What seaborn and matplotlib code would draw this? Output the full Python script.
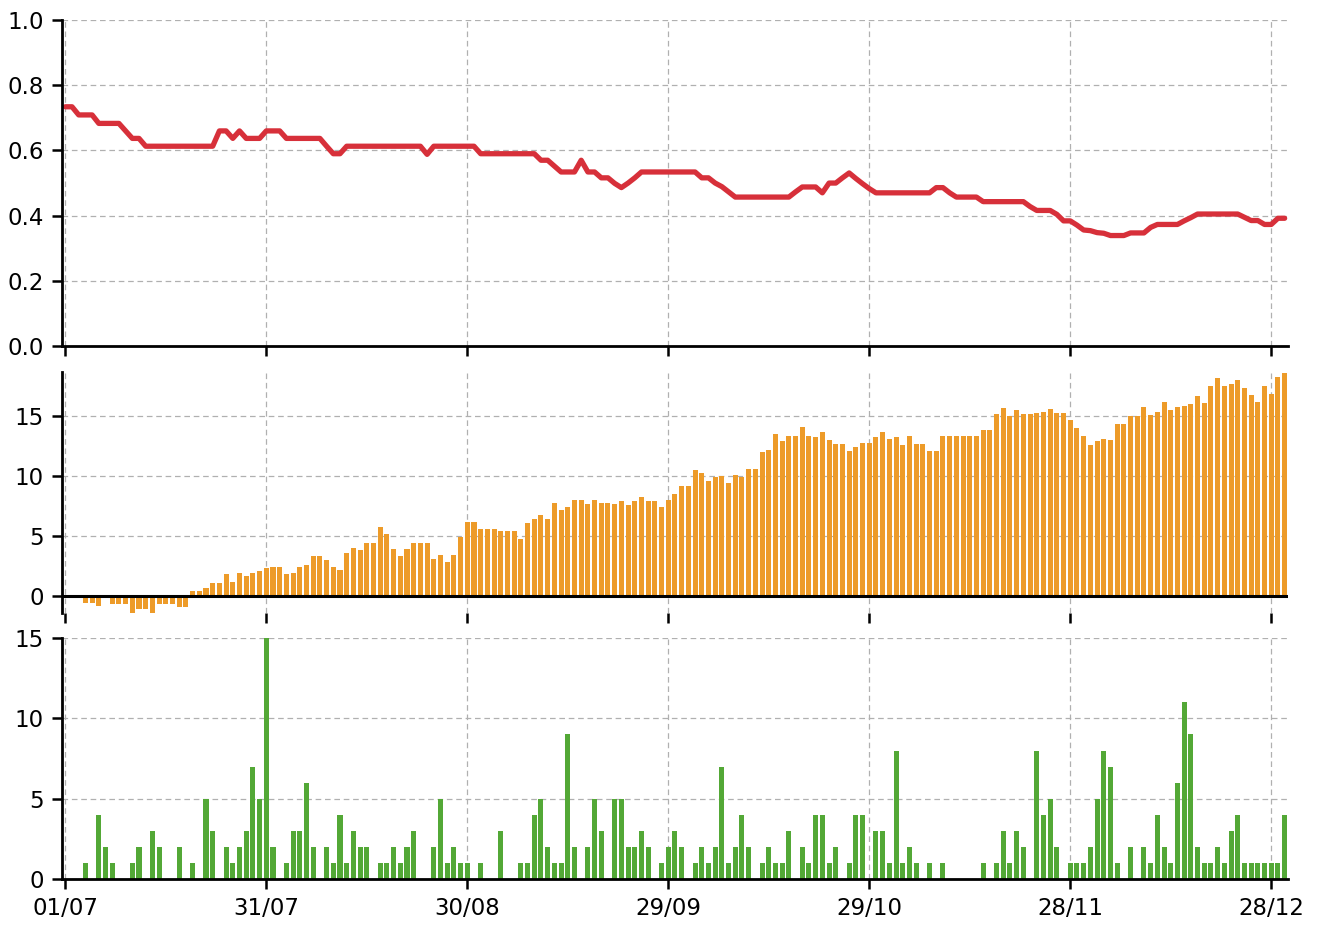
import numpy as np
import pandas as pd
import matplotlib
matplotlib.use("Agg")
import matplotlib.pyplot as plt
import seaborn as sns

# one value per day, 01/07 .. 30/12
ratio = [0.734, 0.734, 0.709, 0.709, 0.709, 0.683, 0.683, 0.683, 0.683, 0.66,
         0.637, 0.637, 0.613, 0.613, 0.613, 0.613, 0.613, 0.613, 0.613, 0.613,
         0.613, 0.613, 0.613, 0.66, 0.66, 0.637, 0.66, 0.637, 0.637, 0.637,
         0.66, 0.66, 0.66, 0.637, 0.637, 0.637, 0.637, 0.637, 0.637, 0.613,
         0.59, 0.59, 0.613, 0.613, 0.613, 0.613, 0.613, 0.613, 0.613, 0.613,
         0.613, 0.613, 0.613, 0.613, 0.588, 0.613, 0.613, 0.613, 0.613, 0.613,
         0.613, 0.613, 0.59, 0.59, 0.59, 0.59, 0.59, 0.59, 0.59, 0.59,
         0.59, 0.57, 0.57, 0.552, 0.534, 0.534, 0.534, 0.57, 0.534, 0.534,
         0.516, 0.516, 0.499, 0.486, 0.5, 0.516, 0.534, 0.534, 0.534, 0.534,
         0.534, 0.534, 0.534, 0.534, 0.534, 0.516, 0.516, 0.5, 0.489, 0.473,
         0.457, 0.457, 0.457, 0.457, 0.457, 0.457, 0.457, 0.457, 0.457, 0.473,
         0.488, 0.488, 0.488, 0.47, 0.5, 0.5, 0.516, 0.531, 0.514, 0.498,
         0.483, 0.47, 0.47, 0.47, 0.47, 0.47, 0.47, 0.47, 0.47, 0.47,
         0.486, 0.486, 0.47, 0.457, 0.457, 0.457, 0.457, 0.443, 0.443, 0.443,
         0.443, 0.443, 0.443, 0.443, 0.428, 0.416, 0.416, 0.416, 0.404, 0.384,
         0.384, 0.371, 0.356, 0.354, 0.348, 0.346, 0.339, 0.339, 0.339, 0.347,
         0.347, 0.347, 0.364, 0.373, 0.373, 0.373, 0.373, 0.384, 0.394, 0.405,
         0.405, 0.405, 0.405, 0.405, 0.405, 0.405, 0.395, 0.385, 0.385, 0.373,
         0.373, 0.392, 0.392]

balance = [0, 0, 0, -0.6, -0.6, -0.8, 0, -0.7, -0.7, -0.7,
           -1.4, -1.1, -1.1, -1.4, -0.7, -0.7, -0.7, -0.9, -0.9, 0.4,
           0.4, 0.7, 1.1, 1.1, 1.8, 1.2, 1.9, 1.7, 1.9, 2.1,
           2.3, 2.4, 2.4, 1.8, 1.9, 2.4, 2.6, 3.3, 3.3, 3.0,
           2.4, 2.2, 3.6, 4.0, 3.8, 4.4, 4.4, 5.8, 5.2, 3.9,
           3.3, 3.9, 4.4, 4.4, 4.4, 3.1, 3.4, 2.8, 3.4, 4.9,
           6.2, 6.2, 5.6, 5.6, 5.6, 5.4, 5.4, 5.4, 4.8, 6.1,
           6.4, 6.8, 6.4, 7.8, 7.2, 7.4, 8.0, 8.0, 7.7, 8.0,
           7.8, 7.8, 7.7, 7.9, 7.6, 7.9, 8.3, 7.9, 7.9, 7.4,
           8.0, 8.5, 9.2, 9.2, 10.5, 10.3, 9.6, 9.9, 10.0, 9.4,
           10.1, 9.9, 10.6, 10.6, 12.0, 12.2, 13.5, 12.9, 13.4, 13.4,
           14.1, 13.4, 13.3, 13.7, 13.0, 12.7, 12.7, 12.1, 12.4, 12.8,
           12.8, 13.3, 13.7, 13.1, 13.3, 12.6, 13.4, 12.7, 12.7, 12.1,
           12.1, 13.4, 13.4, 13.4, 13.4, 13.4, 13.4, 13.9, 13.9, 15.2,
           15.7, 15.0, 15.5, 15.2, 15.2, 15.3, 15.4, 15.6, 15.3, 15.3,
           14.7, 14.0, 13.4, 12.6, 12.9, 13.1, 13.0, 14.4, 14.4, 15.0,
           15.0, 15.8, 15.1, 15.4, 16.2, 15.5, 15.8, 15.9, 16.0, 16.7,
           16.1, 17.5, 18.2, 17.5, 17.7, 18.0, 17.4, 16.8, 16.2, 17.5,
           16.9, 18.3, 18.6]

counts = [0, 0, 0, 1, 0, 4, 2, 1, 0, 0,
          1, 2, 0, 3, 2, 0, 0, 2, 0, 1,
          0, 5, 3, 0, 2, 1, 2, 3, 7, 5,
          15, 2, 0, 1, 3, 3, 6, 2, 0, 2,
          1, 4, 1, 3, 2, 2, 0, 1, 1, 2,
          1, 2, 3, 0, 0, 2, 5, 1, 2, 1,
          1, 0, 1, 0, 0, 3, 0, 0, 1, 1,
          4, 5, 2, 1, 1, 9, 2, 0, 2, 5,
          3, 0, 5, 5, 2, 2, 3, 2, 0, 1,
          2, 3, 2, 0, 1, 2, 1, 2, 7, 1,
          2, 4, 2, 0, 1, 2, 1, 1, 3, 0,
          2, 1, 4, 4, 1, 2, 0, 1, 4, 4,
          0, 3, 3, 1, 8, 1, 2, 1, 0, 1,
          0, 1, 0, 0, 0, 0, 0, 1, 0, 1,
          3, 1, 3, 2, 0, 8, 4, 5, 2, 0,
          1, 1, 1, 2, 5, 8, 7, 1, 0, 2,
          0, 2, 1, 4, 2, 1, 6, 11, 9, 2,
          1, 1, 2, 1, 3, 4, 1, 1, 1, 1,
          1, 1, 4]

tick_days = [0, 30, 60, 90, 120, 150, 180]
tick_labels = ["01/07", "31/07", "30/08", "29/09", "29/10", "28/11", "28/12"]

days = list(range(len(ratio)))
df = pd.DataFrame({"day": days, "ratio": ratio,
                   "balance": balance, "count": counts})

sns.set_theme(style="white")
fig = plt.figure(figsize=(13.24, 9.25), dpi=100)
ax1 = fig.add_axes([0.0468, 0.6259, 0.926, 0.3524])
ax2 = fig.add_axes([0.0468, 0.3373, 0.926, 0.2605])
ax3 = fig.add_axes([0.0468, 0.0497, 0.926, 0.2605])

sns.lineplot(data=df, x="day", y="ratio", ax=ax1, color="#d7303a", linewidth=3.8)
# categorical positions 0..182 are the day numbers themselves
sns.barplot(data=df, x="day", y="balance", ax=ax2, color="#ed9b29", order=days,
            width=0.75, saturation=1, errorbar=None, linewidth=0)
sns.barplot(data=df, x="day", y="count", ax=ax3, color="#53a836", order=days,
            width=0.75, saturation=1, errorbar=None, linewidth=0)

for ax in (ax1, ax2, ax3):
    ax.set_xlim(-0.5, 182.5)
    ax.set_xticks(tick_days)
    ax.set_xticklabels(tick_labels)
    ax.grid(True, axis="both", linestyle=(0, (4.5, 3)), color="#b0b0b0", linewidth=0.9)
    ax.set_axisbelow(True)
    ax.spines["top"].set_visible(False)
    ax.spines["right"].set_visible(False)
    ax.spines["left"].set_linewidth(2)
    ax.spines["left"].set_color("black")
    ax.spines["bottom"].set_linewidth(2)
    ax.spines["bottom"].set_color("black")
    ax.tick_params(axis="both", bottom=True, left=True, length=7, width=1.8,
                   color="black", labelsize=16.5, labelcolor="black", pad=6)
    ax.set_xlabel("")
    ax.set_ylabel("")

ax1.set_ylim(0, 1)
ax1.set_yticks([0, 0.2, 0.4, 0.6, 0.8, 1.0])
ax1.set_yticklabels(["0.0", "0.2", "0.4", "0.6", "0.8", "1.0"])
ax1.tick_params(labelbottom=False)

ax2.set_ylim(min(balance) - 0.02, max(balance) + 0.1)
ax2.set_yticks([0, 5, 10, 15])
ax2.spines["bottom"].set_visible(False)
ax2.axhline(0, color="black", linewidth=2.2, zorder=5)
ax2.tick_params(labelbottom=False)

ax3.set_ylim(0, max(counts))
ax3.set_yticks([0, 5, 10, 15])

fig.savefig("out.png", dpi=100)
